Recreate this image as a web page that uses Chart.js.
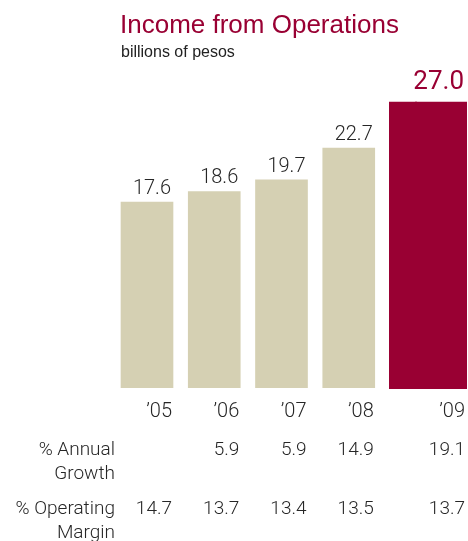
<!DOCTYPE html>
<html>
<head>
<meta charset="utf-8">
<script src="https://cdn.jsdelivr.net/npm/chart.js@4.4.0/dist/chart.umd.min.js"></script>
<style>
  body { margin: 0; background: #fff; }
  #wrap { position: relative; width: 468px; height: 541px; }
  #title { position: absolute; left: 120px; top: 11px; font: 26px/26px "Liberation Sans", Arial, sans-serif; color: #990033; white-space: nowrap; }
  #subtitle { position: absolute; left: 121px; top: 43.5px; font: 16px/16px "Liberation Sans", Arial, sans-serif; color: #222; white-space: nowrap; }
</style>
</head>
<body>
<div id="wrap">
  <canvas id="income_chart"></canvas>
  <div id="title">Income from Operations</div>
  <div id="subtitle">billions of pesos</div>
</div>
<script>
const years = ["\u201905", "\u201906", "\u201907", "\u201908", "\u201909"];
const income = [17.6, 18.6, 19.7, 22.7, 27.0];
const annualGrowth = [null, 5.9, 5.9, 14.9, 19.1];
const operatingMargin = [14.7, 13.7, 13.4, 13.5, 13.7];
const rowTitles = [['% Annual', 'Growth'], ['% Operating', 'Margin']];

const BEIGE = '#d5d0b3';
const CRIMSON = '#990033';
const INK = '#262626';
const FAMILY = 'Roboto, "Liberation Sans", sans-serif';

const last = years.length - 1;
// past years in beige; the latest year in crimson, built from two halves so it is wider
const pastYears = income.map((v, i) => i < last ? v : null);
const latestYear = income.map((v, i) => i === last ? v : null);

const fmt = v => v.toFixed(1);

// values over the bars, year labels and the small table under the axis
const tableLabels = {
    id: 'tableLabels',
    afterDatasetsDraw(chart) {
        const ctx = chart.ctx;
        const cols = years.map((_, i) => {
            let right = -Infinity, top = Infinity;
            chart.data.datasets.forEach((ds, d) => {
                if (ds.data[i] == null) return;
                const el = chart.getDatasetMeta(d).data[i];
                const p = el.getProps(['x', 'y', 'width'], true);
                right = Math.max(right, p.x + p.width / 2);
                top = Math.min(top, p.y);
            });
            return {right, top};
        });

        ctx.save();
        ctx.textAlign = 'right';
        ctx.textBaseline = 'alphabetic';

        cols.forEach((c, i) => {
            const latest = i === last;
            ctx.fillStyle = latest ? CRIMSON : INK;
            ctx.font = (latest ? '400 26px ' : '300 20px ') + FAMILY;
            ctx.fillText(fmt(income[i]), c.right - 2, c.top - (latest ? 14 : 8));

            ctx.fillStyle = INK;
            ctx.font = '300 20px ' + FAMILY;
            ctx.fillText(years[i], c.right - 1, 417);

            ctx.font = '300 19px ' + FAMILY;
            if (annualGrowth[i] != null) ctx.fillText(fmt(annualGrowth[i]), c.right - 1, 455);
            if (operatingMargin[i] != null) ctx.fillText(fmt(operatingMargin[i]), c.right - 1, 514);
        });

        ctx.font = '300 19px ' + FAMILY;
        ctx.fillStyle = INK;
        [455, 514].forEach((y, r) => {
            ctx.fillText(rowTitles[r][0], 115, y);
            ctx.fillText(rowTitles[r][1], 115, y + 24);
        });
        ctx.restore();
    }
};

new Chart(document.getElementById('income_chart').getContext('2d'), {
    type: 'bar',
    data: {
        labels: years,
        datasets: [{
            data: pastYears,
            backgroundColor: BEIGE,
            barThickness: 52,
            stack: 'past',
            skipNull: true
        }, {
            data: latestYear,
            backgroundColor: CRIMSON,
            barThickness: 26,
            stack: 'latestLeft',
            skipNull: true,
            inflateAmount: 1,
            clip: false
        }, {
            data: latestYear,
            backgroundColor: CRIMSON,
            barThickness: 50,
            stack: 'latestRight',
            skipNull: true,
            inflateAmount: 1,
            clip: false
        }]
    },
    options: {
        responsive: true,
        maintainAspectRatio: false,
        animation: false,
        layout: {
            padding: {left: 113.375, right: 18.375, top: 71, bottom: 153}
        },
        plugins: {
            legend: {display: false},
            tooltip: {enabled: false}
        },
        scales: {
            x: {display: false},
            y: {display: false, min: 0, max: 30}
        }
    },
    plugins: [tableLabels]
});
</script>
</body>
</html>
